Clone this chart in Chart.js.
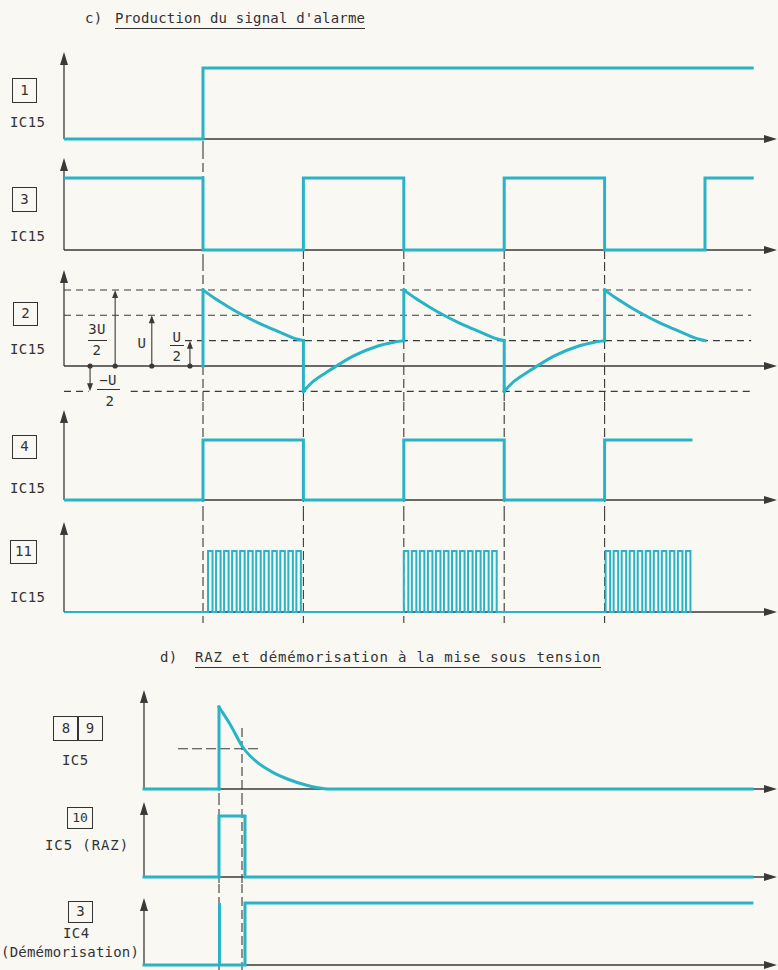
<!DOCTYPE html>
<html lang="fr">
<head>
<meta charset="UTF-8">
<title>Production du signal d'alarme</title>
<script src="https://cdn.jsdelivr.net/npm/chart.js@4.4.0/dist/chart.umd.min.js"></script>
<style>
  body { margin: 0; background: #f9f8f3; }
  #page { position: relative; width: 778px; height: 970px; overflow: hidden;
          font-family: "DejaVu Sans Mono", monospace; color: #333; }
  canvas { position: absolute; }
  .t { position: absolute; font-size: 14px; line-height: 14px; white-space: nowrap; letter-spacing: 0.4px; }
  .u { border-bottom: 1.4px solid #333; padding-bottom: 3px; }
  .box { position: absolute; border: 1.5px solid #333; font-size: 14px; text-align: center; box-sizing: border-box; }
  .bar { position: absolute; height: 1.4px; background: #333; }
</style>
</head>
<body>
<div id="page">
  <!-- titres -->
  <div class="t" style="left:85px;top:11px">c)</div>
  <div class="t u" style="left:115px;top:11px;letter-spacing:0.2px">Production du signal d'alarme</div>
  <div class="t" style="left:160px;top:650px">d)</div>
  <div class="t u" style="left:195px;top:650px;letter-spacing:0.8px">RAZ et démémorisation à la mise sous tension</div>

  <!-- repères section c -->
  <div class="box" style="left:12px;top:78px;width:25px;height:25px;line-height:22px">1</div>
  <div class="t" style="left:10px;top:115px">IC15</div>
  <div class="box" style="left:12px;top:187px;width:25px;height:25px;line-height:22px">3</div>
  <div class="t" style="left:10px;top:229px">IC15</div>
  <div class="box" style="left:13px;top:302px;width:25px;height:24px;line-height:21px">2</div>
  <div class="t" style="left:10px;top:342px">IC15</div>
  <div class="box" style="left:12px;top:435px;width:25px;height:24px;line-height:21px">4</div>
  <div class="t" style="left:10px;top:481px">IC15</div>
  <div class="box" style="left:10px;top:540px;width:27px;height:24px;line-height:21px">11</div>
  <div class="t" style="left:10px;top:590px">IC15</div>

  <!-- cotes du signal 2 -->
  <div class="t" style="left:86px;top:322px;width:22px;text-align:center">3U</div>
  <div class="bar" style="left:88px;top:340px;width:19px"></div>
  <div class="t" style="left:86px;top:343px;width:22px;text-align:center">2</div>
  <div class="t" style="left:133px;top:336px;width:18px;text-align:center">U</div>
  <div class="t" style="left:169px;top:330px;width:16px;text-align:center">U</div>
  <div class="bar" style="left:170px;top:345px;width:14px"></div>
  <div class="t" style="left:169px;top:349px;width:16px;text-align:center">2</div>
  <div class="t" style="left:95px;top:373px;width:26px;text-align:center">−U</div>
  <div class="bar" style="left:97px;top:389px;width:23px"></div>
  <div class="t" style="left:101px;top:394px;width:18px;text-align:center">2</div>

  <!-- repères section d -->
  <div class="box" style="left:53px;top:716px;width:26px;height:25px;line-height:22px">8</div>
  <div class="box" style="left:77px;top:716px;width:26px;height:25px;line-height:22px">9</div>
  <div class="t" style="left:62px;top:753px">IC5</div>
  <div class="box" style="left:67px;top:807px;width:26px;height:22px;line-height:19px;font-size:13px">10</div>
  <div class="t" style="left:45px;top:838px;letter-spacing:0.9px">IC5 (RAZ)</div>
  <div class="box" style="left:68px;top:901px;width:25px;height:22px;line-height:19px">3</div>
  <div class="t" style="left:63px;top:926px">IC4</div>
  <div class="t" style="left:1px;top:945px;letter-spacing:0.2px">(Démémorisation)</div>
</div>
<script>
// ---- section c : temps en demi-périodes, 0 = déclenchement ----
var sig1 = [[-1.37, 0], [0, 0], [0, 1], [5.47, 1]];
var sig3 = [[-1.37, 1], [0, 1], [0, 0], [1, 0], [1, 1], [2, 1], [2, 0], [3, 0], [3, 1],
            [4, 1], [4, 0], [5, 0], [5, 1], [5.47, 1]];
// tension en unités de U
var sig2 = [[0, 0], [0, 1.5], [0.12, 1.33], [0.25, 1.17], [0.4, 1.0], [0.55, 0.85], [0.7, 0.72], [0.82, 0.62], [0.92, 0.54], [1, 0.5],
            [1, -0.5], [1.1, -0.3], [1.25, -0.1], [1.5, 0.2], [1.75, 0.4], [1.9, 0.47], [2, 0.5],
            [2, 1.5], [2.12, 1.33], [2.25, 1.17], [2.4, 1.0], [2.55, 0.85], [2.7, 0.72], [2.82, 0.62], [2.92, 0.54], [3, 0.5],
            [3, -0.5], [3.1, -0.3], [3.25, -0.1], [3.5, 0.2], [3.75, 0.4], [3.9, 0.47], [4, 0.5],
            [4, 1.5], [4.12, 1.33], [4.25, 1.17], [4.4, 1.0], [4.55, 0.85], [4.7, 0.72], [4.82, 0.62], [4.92, 0.54], [5, 0.5]];
var levels2 = [1.5, 1, 0.5, -0.5];
var sig4 = [[-1.37, 0], [0, 0], [0, 1], [1, 1], [1, 0], [2, 0], [2, 1], [3, 1], [3, 0],
            [4, 0], [4, 1], [4.86, 1]];
// fronts montants des salves du signal 11
var burst1 = [0.05, 0.13, 0.21, 0.29, 0.37, 0.45, 0.53, 0.61, 0.69, 0.77, 0.85, 0.93];
var burst2 = [2.0, 2.08, 2.16, 2.24, 2.32, 2.40, 2.48, 2.56, 2.64, 2.72, 2.80, 2.88];
var burst3 = [4.01, 4.09, 4.17, 4.25, 4.33, 4.41, 4.49, 4.57, 4.65, 4.73, 4.81];
var pulseWidth = 0.045;
var guidesC = [0, 1, 2, 3, 4];

// ---- section d : temps en constantes RC, 0 = mise sous tension ----
var sig89 = [[-3.26, 0], [0, 0], [0, 1], [0.48, 0.79], [1.06, 0.5], [1.64, 0.33],
             [2.36, 0.2], [3.09, 0.11], [3.81, 0.045], [4.3, 0.015], [4.8, 0], [23.17, 0]];
var threshold89 = 0.49;
var sig10 = [[-3.26, 0], [0, 0], [0, 1], [1.13, 1], [1.13, 0], [23.17, 0]];
var sigIC4 = [[-3.26, 0], [0, 0], [0, 1], [0.03, 1], [0.03, 0], [1.13, 0], [1.13, 1], [23.17, 1]];
var guidesD = [0, 1];

var teal = '#29b3c7';
var ink = '#3a3a3a';

function burstPoints(start, bursts, w) {
  var pts = [[start, 0]];
  bursts.forEach(function (b) {
    b.forEach(function (r) { pts.push([r, 0], [r, 1], [r + w, 1], [r + w, 0]); });
  });
  return pts;
}
var sig11 = burstPoints(-1.37, [burst1, burst2, burst3], pulseWidth);

// coupe la trace aux fronts verticaux pour lisser seulement les courbes
function pieces(pts) {
  var out = [], cur = [pts[0]];
  for (var i = 1; i < pts.length; i++) {
    var p = pts[i], q = pts[i - 1];
    if (p[0] === q[0]) {
      if (cur.length > 1) out.push(cur);
      out.push([q, p]);
      cur = [p];
    } else cur.push(p);
  }
  if (cur.length > 1) out.push(cur);
  return out;
}

function toXY(pts) { return pts.map(function (p) { return { x: p[0], y: p[1] }; }); }

function buildDatasets(p) {
  var groups = p.smooth ? pieces(p.data) : [p.data];
  return groups.map(function (g) {
    return {
      data: toXY(g), borderColor: teal, borderWidth: p.width || 3, pointRadius: 0,
      tension: 0, cubicInterpolationMode: p.smooth ? 'monotone' : 'default',
      borderCapStyle: 'square', borderJoinStyle: 'miter', clip: false, fill: false
    };
  });
}

function line(ctx, x0, y0, x1, y1) {
  ctx.beginPath(); ctx.moveTo(x0, y0); ctx.lineTo(x1, y1); ctx.stroke();
}
function head(ctx, x, y, dir, len, half) {
  ctx.beginPath();
  if (dir === 'up') { ctx.moveTo(x, y); ctx.lineTo(x - half, y + len); ctx.lineTo(x + half, y + len); }
  if (dir === 'down') { ctx.moveTo(x, y); ctx.lineTo(x - half, y - len); ctx.lineTo(x + half, y - len); }
  if (dir === 'right') { ctx.moveTo(x, y); ctx.lineTo(x - len, y - half); ctx.lineTo(x - len, y + half); }
  ctx.closePath(); ctx.fill();
}

var diagram = {
  id: 'diagram',
  beforeDatasetsDraw: function (chart, args, o) {
    var ctx = chart.ctx, a = chart.chartArea, x = chart.scales.x, y = chart.scales.y;
    var y0 = y.getPixelForValue(0);
    ctx.save();
    ctx.strokeStyle = ink; ctx.fillStyle = ink;

    // verticales de repérage
    ctx.lineWidth = 1.1; ctx.setLineDash([9, 4]);
    (o.guides || []).forEach(function (g) {
      var px = x.getPixelForValue(g.t);
      line(ctx, px, g.from - o.top, px, g.to - o.top);
    });

    // niveaux en pointillés
    ctx.setLineDash([7, 5]);
    (o.levels || []).forEach(function (l) {
      var py = y.getPixelForValue(l.v);
      line(ctx, x.getPixelForValue(l.t0), py, x.getPixelForValue(l.t1), py);
    });
    ctx.setLineDash([10, 4]);
    (o.thresholds || []).forEach(function (l) {
      var py = y.getPixelForValue(l.v);
      line(ctx, x.getPixelForValue(l.t0), py, x.getPixelForValue(l.t1), py);
    });
    ctx.setLineDash([]);

    // axes
    ctx.lineWidth = 1.3;
    line(ctx, a.left, y0, chart.width - 8, y0);
    head(ctx, chart.width - 1, y0, 'right', 13, 4);
    line(ctx, a.left, y0, a.left, o.tip - o.top + 8);
    head(ctx, a.left, o.tip - o.top, 'up', 13, 4);

    // flèches de cotes
    ctx.lineWidth = 1.1;
    (o.dims || []).forEach(function (d) {
      var px = x.getPixelForValue(d.t), py = y.getPixelForValue(d.v);
      var up = d.v > 0;
      line(ctx, px, y0, px, py + (up ? 6 : -6));
      head(ctx, px, py, up ? 'up' : 'down', 8, 3);
      ctx.beginPath(); ctx.arc(px, y0, 2.6, 0, Math.PI * 2); ctx.fill();
    });
    ctx.restore();
  }
};

var page = document.getElementById('page');

function makeChart(p, xr) {
  var cv = document.createElement('canvas');
  var left = xr.axisPx - 10;
  cv.width = 778 - left; cv.height = p.bottom - p.top;
  cv.style.left = left + 'px'; cv.style.top = p.top + 'px';
  page.appendChild(cv);
  new Chart(cv, {
    type: 'line',
    data: { datasets: buildDatasets(p) },
    options: {
      responsive: false, animation: false, events: [],
      layout: { padding: { left: 10, right: 0, top: 0, bottom: 0 } },
      scales: {
        x: { type: 'linear', display: false,
             min: (xr.axisPx - xr.zeroPx) / xr.pxPerUnit, max: (778 - xr.zeroPx) / xr.pxPerUnit },
        y: { type: 'linear', display: false,
             min: -(p.bottom - p.base) / p.unit, max: (p.base - p.top) / p.unit }
      },
      plugins: {
        legend: { display: false }, tooltip: { enabled: false },
        diagram: { top: p.top, tip: p.tip, guides: p.guides, levels: p.levels,
                   thresholds: p.thresholds, dims: p.dims }
      }
    },
    plugins: [diagram]
  });
}

function guideSet(ts, from, to) {
  return ts.map(function (t) { return { t: t, from: from, to: to }; });
}

var xC = { axisPx: 64, zeroPx: 203, pxPerUnit: 100.4 };
var xD = { axisPx: 144, zeroPx: 219, pxPerUnit: 23 };
var tAxisC = (xC.axisPx - xC.zeroPx) / xC.pxPerUnit;

var levelSegs = [
  { v: levels2[0], t0: tAxisC, t1: 5.46 },
  { v: levels2[1], t0: tAxisC, t1: 5.46 },
  { v: levels2[2], t0: -0.18, t1: 5.46 },
  { v: levels2[3], t0: tAxisC, t1: -1.14 },
  { v: levels2[3], t0: -0.72, t1: 5.46 }
];
var dims2 = [
  { t: -0.875, v: levels2[0] }, { t: -0.51, v: levels2[1] },
  { t: -0.13, v: levels2[2] }, { t: -1.125, v: levels2[3] }
];

var panels = [
  { data: sig1, top: 40, bottom: 150, base: 139, unit: 71, tip: 52,
    guides: guideSet([0], 141, 150) },
  { data: sig3, top: 150, bottom: 262, base: 250, unit: 72, tip: 158,
    guides: guideSet([0], 150, 262).concat(guideSet(guidesC.slice(1), 250, 262)) },
  { data: sig2, top: 262, bottom: 402, base: 366, unit: 50.7, tip: 270, smooth: true,
    guides: guideSet(guidesC, 262, 402), levels: levelSegs, dims: dims2 },
  { data: sig4, top: 402, bottom: 512, base: 500, unit: 60, tip: 410,
    guides: guideSet(guidesC, 402, 512) },
  { data: sig11, top: 512, bottom: 626, base: 612, unit: 61, tip: 522, width: 2,
    guides: guideSet(guidesC, 512, 623) }
];
panels.forEach(function (p) { makeChart(p, xC); });

var panelsD = [
  { data: sig89, top: 682, bottom: 796, base: 789, unit: 82, tip: 690, smooth: true,
    guides: guideSet(guidesD, 728, 796),
    thresholds: [{ v: threshold89, t0: -1.78, t1: 1.87 }] },
  { data: sig10, top: 796, bottom: 884, base: 877, unit: 61, tip: 802,
    guides: guideSet(guidesD, 796, 884) },
  { data: sigIC4, top: 884, bottom: 970, base: 965, unit: 62, tip: 898,
    guides: guideSet(guidesD, 884, 970) }
];
panelsD.forEach(function (p) { makeChart(p, xD); });
</script>
</body>
</html>
